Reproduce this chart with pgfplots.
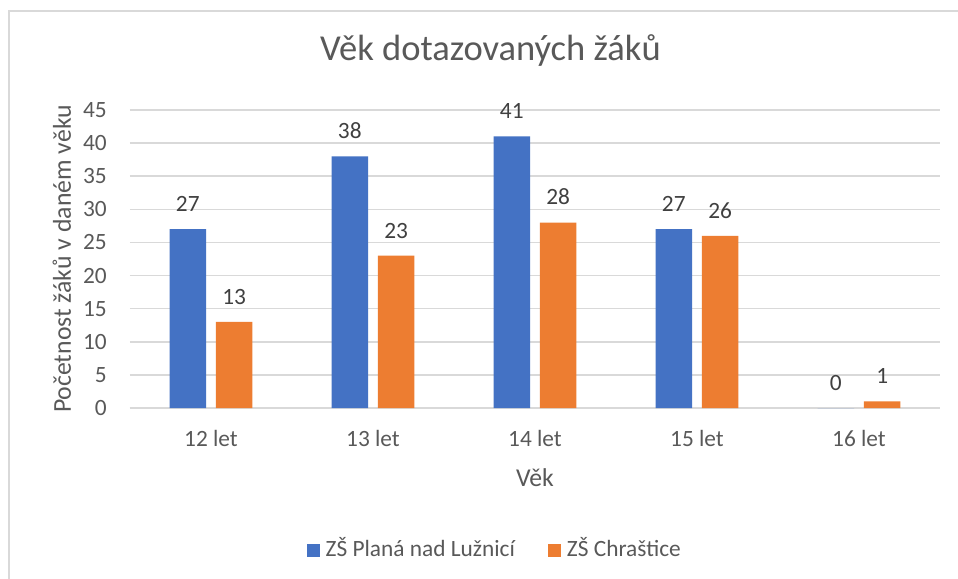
\documentclass[border=0pt]{standalone}
\usepackage{pgfplots}
\pgfplotsset{compat=1.18}
\usepackage{fontspec}
\setmainfont{Carlito}
\definecolor{cblue}{HTML}{4472C4}
\definecolor{corange}{HTML}{ED7D31}
\definecolor{txt}{HTML}{595959}
\definecolor{dlab}{HTML}{404040}
\definecolor{gridc}{HTML}{D9D9D9}
\begin{document}
\begin{tikzpicture}
\useasboundingbox (0,0) rectangle (718.5pt,-434.25pt);
\fill[white] (0,0) rectangle (718.5pt,-434.25pt);
\draw[gridc, line width=1.1pt] (6.75pt,-440pt) -- (6.75pt,-8.25pt) -- (725pt,-8.25pt);
\begin{axis}[
  at={(97.5pt,-306pt)}, anchor=south west,
  scale only axis,
  width=607.5pt, height=223.5pt,
  xmin=-0.5, xmax=4.5, ymin=0, ymax=45,
  ybar, bar width=27.4pt,
  axis x line*=bottom, axis y line*=left,
  x axis line style={gridc, line width=1.1pt, -},
  y axis line style={draw=none},
  ymajorgrids, grid style={gridc, line width=1.1pt},
  ytick={0,5,...,45},
  xtick=data,
  xticklabels={12 let,13 let,14 let,15 let,16 let},
  major tick length=0pt,
  /pgf/number format/assume math mode=true,
  tick label style={font=\fontsize{17.5}{20}\selectfont, text=txt},
  xticklabel style={anchor=base, inner sep=0pt, yshift=-28.5pt},
  yticklabel style={anchor=east, inner sep=0pt, xshift=-17.25pt},
  ylabel={Početnost žáků v daném věku},
  ylabel style={at={(axis description cs:-0.084,0.5)}, anchor=center, rotate=0, font=\fontsize{19.3}{22}\selectfont, text=txt},
  xlabel={Věk},
  xlabel style={at={(axis description cs:0.5,-0.235)}, anchor=center, font=\fontsize{19.3}{22}\selectfont, text=txt},
  title={Věk dotazovaných žáků},
  title style={at={(axis description cs:0.445,1.174)}, anchor=center, font=\fontsize{27.4}{30}\selectfont, text=txt},
  nodes near coords,
  every node near coord/.append style={font=\fontsize{17.5}{20}\selectfont, text=dlab, anchor=base, inner sep=0pt, yshift=13.2pt},
  legend columns=2,
  legend style={at={(axis description cs:0.449,-0.47)}, anchor=center, draw=none, fill=none,
    font=\fontsize{17.5}{20}\selectfont, text=txt,
    /tikz/every odd column/.style={column sep=4.5pt},
    /tikz/every even column/.style={column sep=24.75pt},
    inner sep=0pt, nodes={inner sep=0pt, anchor=base west}},
  legend image code/.code={\fill[#1] (0pt,-0.5pt) rectangle (9.75pt,9.25pt);},
]
\addplot[fill=cblue, draw=none, bar shift=-17.4pt] coordinates {(0,27) (1,38) (2,41) (3,27) (4,0)};
\addplot[fill=corange, draw=none, bar shift=17.4pt] coordinates {(0,13) (1,23) (2,28) (3,26) (4,1)};
\legend{ZŠ Planá nad Lužnicí, ZŠ Chraštice}
\end{axis}
\end{tikzpicture}
\end{document}
